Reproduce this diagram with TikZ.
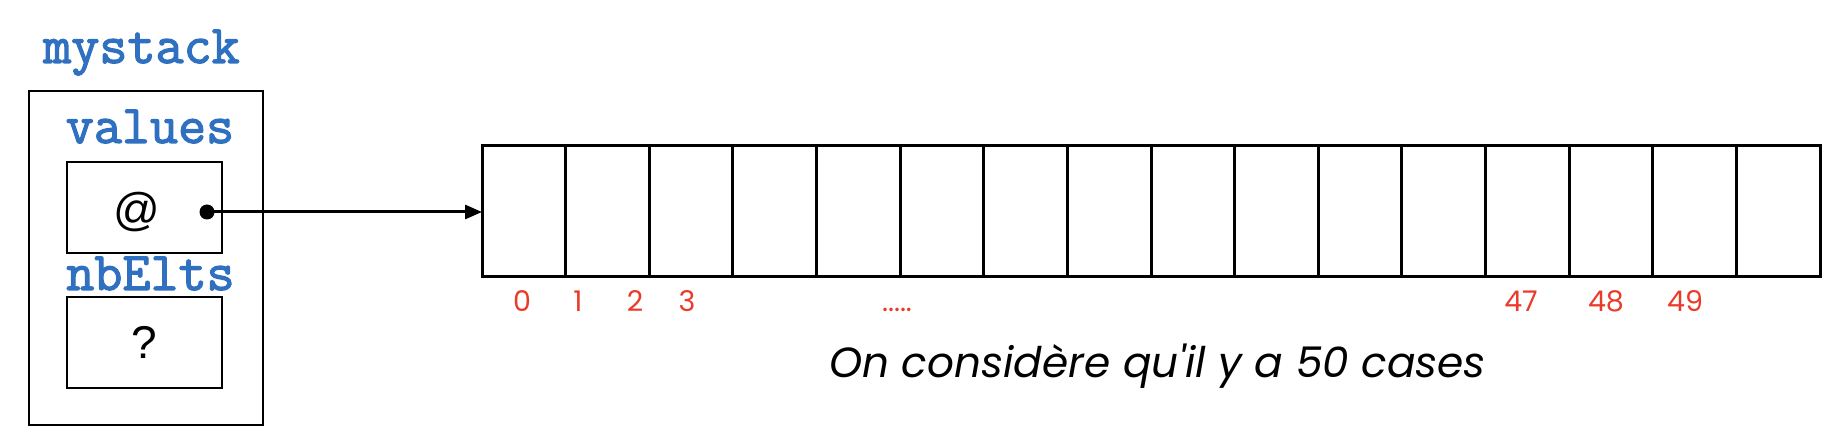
\documentclass[tikz,border=0pt]{standalone}
\usepackage{fontspec}
\setmainfont{Liberation Sans}
\newfontfamily\popfont{Poppins}
\newfontfamily\codefont{Latin Modern Mono}[FakeBold=2.2]
\usetikzlibrary{arrows.meta}
\definecolor{codeblue}{RGB}{48,112,192}
\definecolor{idxred}{RGB}{234,58,40}
\tikzset{
  code/.style={font=\codefont\fontsize{54.5}{56}\selectfont, text=codeblue, anchor=base, inner sep=0pt},
  frame/.style={draw=black, line width=1.6pt},
  field/.style={draw=black, line width=1.6pt, minimum width=155pt, minimum height=91pt, inner sep=0pt, font=\fontsize{46}{50}\selectfont},
  cell/.style={draw=black, line width=3pt, minimum width=83.625pt, minimum height=130pt, inner sep=0pt, outer sep=0pt},
  idx/.style={font=\popfont\fontsize{28.5}{30}\selectfont, text=idxred, anchor=base, inner sep=0pt},
  note/.style={font=\popfont\itshape\fontsize{42.2}{46}\selectfont, anchor=base, inner sep=0pt},
}
\begin{document}
\begin{tikzpicture}[x=1pt,y=-1pt]
\useasboundingbox (0,0) rectangle (1846,446);
% struct
\node[code] (title) at (141.5,63) {mystack};
\draw[frame] (29,91) rectangle (263,425);
\node[code] (lvalues) at (150,143) {values};
\node[field] (fvalues) at (144.5,207.5) {};
\node[font=\fontsize{46}{50}\selectfont, inner sep=0pt] (at) at (137,212) {@};
\node[code] (lnb) at (150.5,290) {nbElts};
\node[field] (fnb) at (144.5,342.5) {?};
% array
\foreach \i in {0,...,15} {
  \node[cell] (c\i) at ({482+83.625*(\i+0.5)},211) {};
}
% pointer
\coordinate (dot) at (207,212);
\fill (dot) circle (7.5pt);
\draw[line width=3pt, -{Triangle[length=17pt,width=14pt]}] (dot) -- (dot -| c0.west);
% indices
\node[idx] (i0) at (522,311) {0};
\node[idx] (i1) at (578,311) {1};
\node[idx] (i2) at (635,311) {2};
\node[idx] (i3) at (687,311) {3};
\node[idx] (idots) at (897,311) {.....};
\node[idx] (i47) at (1521,311) {47};
\node[idx] (i48) at (1606,311) {48};
\node[idx] (i49) at (1685,311) {49};
\node[note] (note) at (1157.5,377) {On considère qu'il y a 50 cases};
\end{tikzpicture}
\end{document}
